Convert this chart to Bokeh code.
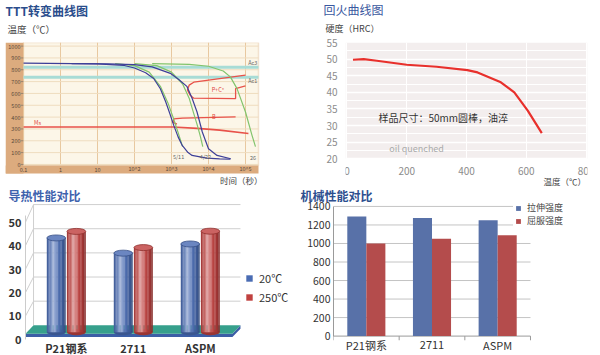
import math
from bokeh.plotting import figure
from bokeh.models import (Range1d, FixedTicker, Title, Legend, LegendItem,
                          ColumnDataSource, BoxAnnotation)
from bokeh.layouts import row, column
from bokeh.embed import file_html
from bokeh.resources import INLINE
from bokeh.core.properties import value

FONT = "Noto Sans CJK SC"

# ---------------- data ----------------
# TTT diagram (time in s, temperature in degC)
ttt_x_ticks = [0.1, 1, 10, 100, 1000, 10000, 100000]
ttt_x_labels = ["0.1", "1", "10", "10^2", "10^3", "10^4", "10^5"]
ttt_y_ticks = [0, 100, 200, 300, 400, 500, 600, 700, 800, 900, 1000]
ac3_temp = 822
ac1_temp = 737
ms_time = [0.1, 1100, 5000, 20000, 120000]
ms_temp = [316, 316, 305, 290, 262]
blue1_time = [0.1, 10, 50, 100, 200, 330, 500, 700, 900, 1150, 1500, 1950, 2800, 3600, 9000, 20000, 39000]
blue1_temp = [856, 850, 838, 815, 775, 726, 640, 528, 430, 330, 235, 161, 100, 76, 53, 47, 45]
blue2_time = [2, 20, 100, 300, 930, 1600, 2600, 3600, 4900, 6800, 10000, 17000, 40000]
blue2_temp = [852, 850, 843, 825, 770, 715, 660, 560, 443, 274, 133, 76, 48]
green1_time = [30, 100, 250, 500, 800, 1100, 1400, 2000]
green1_temp = [852, 835, 780, 660, 520, 400, 300, 150]
green2_time = [100, 400, 1000, 2000, 3000, 4000, 5000, 6000, 7000]
green2_temp = [852, 835, 780, 680, 560, 430, 330, 240, 150]
green3_time = [300, 3000, 10000, 25000, 39000, 59000, 100000, 150000, 186000]
green3_temp = [852, 845, 830, 790, 740, 641, 443, 246, 150]
pc_time = [100000, 20000, 4000, 3000, 2700, 3200, 4000, 54000, 54000, 100000]
pc_temp = [754, 725, 695, 670, 630, 585, 560, 557, 641, 664]
b_time = [1400, 1100, 1150, 2000, 54000]
b_temp = [340, 355, 385, 392, 402]
ttt_notes = ["Ac3", "Ac1", "Ms", "P+C*", "B", "5/11", "4/22", "26"]
ttt_note_time = [210000, 210000, 0.24, 18000, 14000, 1550, 8300, 160000]
ttt_note_temp = [855, 705, 347, 627, 400, 59, 59, 59]
ttt_note_align = ["right", "right", "center", "center", "center", "center", "center", "center"]
ttt_note_color = ["#666666", "#666666", "#e0443c", "#e0443c", "#e0443c", "#666666", "#666666", "#666666"]

# Tempering curve
temper_temp = [20, 56, 100, 200, 300, 403, 437, 515, 560, 605, 652]
temper_hrc = [49.8, 50.0, 49.5, 48.3, 47.7, 46.7, 46.0, 43.0, 40.0, 34.5, 27.7]
temper_x_ticks = [0, 200, 400, 600, 800]
temper_y_ticks = [20, 25, 30, 35, 40, 45, 50, 55]

# Thermal conductivity
thermal_cats = ["P21钢系", "2711", "ASPM"]
thermal_20 = [39.0, 32.7, 36.5]
thermal_250 = [41.7, 35.0, 41.8]
thermal_y_ticks = [0, 10, 20, 30, 40, 50]

# Mechanical properties
mech_cats = ["P21钢系", "2711", "ASPM"]
tensile = [1290, 1275, 1250]
yield_strength = [1000, 1050, 1090]
mech_y_ticks = [0, 200, 400, 600, 800, 1000, 1200, 1400]


# ---------------- helpers ----------------
def base_fig(w, h, l, r, t, b, **kw):
    p = figure(width=w, height=h, output_backend="svg", toolbar_location=None,
               min_border_left=l, min_border_right=r, min_border_top=t,
               min_border_bottom=b, **kw)
    p.border_fill_color = "white"
    return p


def set_title(t, text, size, color, offset, bold=False, align="left", valign="bottom", standoff=0):
    t.text = text
    t.text_font = FONT
    t.text_font_size = size
    t.text_color = color
    t.text_font_style = "bold" if bold else "normal"
    t.align = align
    t.offset = offset
    t.vertical_align = valign
    try:
        t.standoff = standoff
    except Exception:
        t.standoff = 0
    return t


def style_axis(ax, size, color, bold=False, standoff=3):
    ax.major_label_text_font = FONT
    ax.major_label_text_font_size = size
    ax.major_label_text_color = color
    ax.major_label_text_font_style = "bold" if bold else "normal"
    ax.major_label_standoff = standoff
    ax.major_tick_line_color = None
    ax.minor_tick_line_color = None
    ax.major_tick_out = 0
    ax.major_tick_in = 0
    ax.minor_tick_out = 0
    ax.minor_tick_in = 0
    ax.axis_line_color = None


def txt(p, x, y, text, size, color, align="center", bold=False, **kw):
    p.text(x=x, y=y, text=text, text_color=color, text_font=value(FONT),
           text_font_size=size, text_align=align, text_baseline="middle",
           text_font_style="bold" if bold else "normal", **kw)


def hex_rgb(h):
    h = h.lstrip("#")
    return [int(h[i:i + 2], 16) for i in (0, 2, 4)]


def rgb_hex(c):
    return "#%02x%02x%02x" % tuple(max(0, min(255, int(round(v)))) for v in c)


def shade(base, t):
    hl = 0.45 * math.exp(-((t - 0.36) / 0.2) ** 2)
    dk = 0.32 * ((t - 0.42) / 0.58) ** 2
    c = [v + (255 - v) * hl for v in hex_rgb(base)]
    return rgb_hex([v * (1 - dk) for v in c])


def mix(base, other, a):
    b, o = hex_rgb(base), hex_rgb(other)
    return rgb_hex([bb + (oo - bb) * a for bb, oo in zip(b, o)])


# ---------------- A: TTT ----------------
# pixel <-> data helpers for the TTT panel layout (log x, linear y)
def ax_(px):
    return 10 ** ((px - 23) / 37.0 - 1)


def ay_(py):
    return (164 - py) / 0.118


TAN = "#dcab7e"
CREAM = "#fcf6e8"
pA = base_fig(300, 186, 5, 32, 41, 0, x_axis_type="log", x_axis_location=None,
              y_axis_location=None,
              x_range=Range1d(ax_(5), ax_(268)), y_range=Range1d(ay_(186), ay_(42.4)))
pA.background_fill_color = "white"
pA.outline_line_color = None
pA.xgrid.visible = False
pA.ygrid.visible = False
x_right = ax_(258)
y_plot_bottom = ay_(165)
y_band_bottom = ay_(173)
pA.add_layout(BoxAnnotation(left=ttt_x_ticks[0], right=x_right, bottom=y_plot_bottom,
                            fill_color=CREAM, fill_alpha=1, line_color=TAN, line_width=1.5,
                            level="image"))
pA.add_layout(BoxAnnotation(right=ttt_x_ticks[0], bottom=y_band_bottom,
                            fill_color=TAN, fill_alpha=1, line_color=None, level="image"))
pA.add_layout(BoxAnnotation(right=x_right, top=y_plot_bottom, bottom=y_band_bottom,
                            fill_color=TAN, fill_alpha=1, line_color=None, level="image"))
# grid lines, limited to the plot box
pA.segment(x0=ttt_x_ticks, x1=ttt_x_ticks, y0=y_plot_bottom, y1=ay_(42.4),
           line_color="#e8c89f", line_width=1)
pA.segment(x0=ttt_x_ticks[0], x1=x_right, y0=ttt_y_ticks, y1=ttt_y_ticks,
           line_color="#efdcbf", line_width=1)
# tick marks and tick labels
pA.segment(x0=ax_(20.5), x1=ttt_x_ticks[0], y0=ttt_y_ticks, y1=ttt_y_ticks,
           line_color="#8a7a6a", line_width=0.8)
txt(pA, [ax_(20)] * len(ttt_y_ticks), ttt_y_ticks, [str(v) for v in ttt_y_ticks],
    "5.5px", "#5a4a3a", align="right")
txt(pA, ttt_x_ticks, [ay_(169)] * len(ttt_x_ticks), ttt_x_labels, "5.5px", "#5a4a3a")
# Ac lines
pA.segment(x0=ttt_x_ticks[0], x1=x_right, y0=[ac3_temp, ac1_temp], y1=[ac3_temp, ac1_temp],
           line_color="#a8dcd6", line_width=3)
RED = "#e8524a"
pA.line(ms_time, ms_temp, color=RED, line_width=1.6)
pA.line(b_time, b_temp, color=RED, line_width=1.3)
pA.line(pc_time, pc_temp, color=RED, line_width=1.3)
GREEN = "#82c46c"
pA.line(green1_time, green1_temp, color=GREEN, line_width=1.2)
pA.line(green2_time, green2_temp, color=GREEN, line_width=1.2)
pA.line(green3_time, green3_temp, color=GREEN, line_width=1.2)
BLUE = "#3d3f98"
pA.line(blue1_time, blue1_temp, color=BLUE, line_width=1.2)
pA.line(blue2_time, blue2_temp, color=BLUE, line_width=1.2)
pA.text(x="x", y="y", text="t", text_color="c", text_align="a",
        source=ColumnDataSource(dict(x=ttt_note_time, y=ttt_note_temp, t=ttt_notes,
                                     c=ttt_note_color, a=ttt_note_align)),
        text_font=value(FONT), text_font_size="5.5px", text_baseline="middle")
txt(pA, [ax_(262)], [ay_(179.5)], ["时间（秒）"], "8.5px", "#444444", align="right")
# outer (p.title) = main title, inner = unit label
set_title(pA.title, "TTT转变曲线图", "12px", "#2a4d8c", 0, bold=True, standoff=-4)
pA.add_layout(set_title(Title(), "温度（℃）", "9.5px", "#444444", 2, valign="top",
                        standoff=10), "above")

# ---------------- B: tempering ----------------
pB = base_fig(300, 186, 45, 13, 42, 0, x_axis_location=None,
              x_range=Range1d(-5, 805), y_range=Range1d(11.64, 55))
pB.background_fill_color = "white"
pB.outline_line_color = None
pB.add_layout(BoxAnnotation(bottom=20, top=55, fill_color="#f3eeee", fill_alpha=1,
                            line_color=None, level="image"))
pB.xgrid.ticker = FixedTicker(ticks=temper_x_ticks)
pB.yaxis.ticker = FixedTicker(ticks=temper_y_ticks,
                              minor_ticks=[t + 2.5 for t in temper_y_ticks[:-1]])
style_axis(pB.yaxis[0], "10px", "#8c8c8c", standoff=8)
pB.xgrid.grid_line_color = "white"
pB.xgrid.grid_line_width = 1
pB.ygrid.grid_line_color = "white"
pB.ygrid.grid_line_width = 1.5
pB.ygrid.minor_grid_line_color = "white"
pB.ygrid.minor_grid_line_width = 1
pB.line(temper_temp, temper_hrc, color="#e8302c", line_width=2.2)
txt(pB, temper_x_ticks, [16.26] * len(temper_x_ticks), [str(t) for t in temper_x_ticks],
    "10px", "#8c8c8c")
txt(pB, [800], [13.3], ["温度（℃）"], "8.5px", "#444444", align="right")
txt(pB, [322], [32.5], ["样品尺寸：50mm圆棒，油淬"], "10px", "#333333")
txt(pB, [233], [23.1], ["oil quenched"], "9px", "#aaaaaa")
set_title(pB.title, "回火曲线图", "12px", "#3a58a0", -22, standoff=-3)
pB.add_layout(set_title(Title(), "硬度（HRC）", "9px", "#444444", -20, valign="top",
                        standoff=11), "above")

# ---------------- C: thermal conductivity (3D cylinders) ----------------
DEPTH_BASE, DEPTH_SCALE, BACK_OFF = 3.1, 1.03, 6.0
X0, X1 = -0.609, 3.496
pC = base_fig(300, 169, 25, 0, 13, 0, x_axis_location=None,
              x_range=Range1d(X0, X1), y_range=Range1d(-6.86, 59.66))
pC.background_fill_color = "white"
pC.outline_line_color = None
pC.xgrid.visible = False
pC.ygrid.visible = False
n = len(thermal_cats)
xpos = list(range(n))
pC.yaxis.ticker = FixedTicker(ticks=thermal_y_ticks)
style_axis(pC.yaxis[0], "11px", "#333333", bold=True, standoff=4)
pC.yaxis.axis_line_color = "#cccccc"
pC.yaxis.bounds = (0, 53)
back_left = X0 + 0.12
back_right = (n - 1) + 0.6
front_right = (n - 1) + 0.48
gx, gy = [], []
for v in thermal_y_ticks[1:]:
    gx.append([X0, back_left, back_right])
    gy.append([v, v * DEPTH_SCALE + BACK_OFF, v * DEPTH_SCALE + BACK_OFF])
gx.append([back_left, back_left])
gy.append([BACK_OFF, thermal_y_ticks[-1] * DEPTH_SCALE + BACK_OFF])
pC.multi_line(gx, gy, line_color="#cfcfcf", line_width=1)
# floor
pC.patch([X0, front_right, back_right, back_right, front_right, X0],
         [0.99, 0.99, 4.5, BACK_OFF, 2.44, 2.44], fill_color="#3c5ea6", line_color=None)
pC.patch([X0, front_right, back_right, back_left],
         [2.44, 2.44, BACK_OFF, BACK_OFF], fill_color="#36a08c", line_color=None)

W = 0.28
K = 14
legend_rs = []
for vals, off, base in ((thermal_20, -0.15, "#4a6cb3"), (thermal_250, 0.15, "#c0413f")):
    xs = [i + off for i in xpos]
    tops = [DEPTH_BASE + DEPTH_SCALE * v for v in vals]
    pC.ellipse(x=xs, y=[DEPTH_BASE] * n, width=W, height=6, height_units="screen",
               fill_color=mix(base, "#000000", 0.2), line_color=None)
    sx, st, sc = [], [], []
    for i in range(n):
        for k in range(K):
            t = (k + 0.5) / K
            sx.append(xs[i] - W / 2 + t * W)
            st.append(tops[i])
            sc.append(shade(base, t))
    src = ColumnDataSource(dict(x=sx, top=st, color=sc))
    pC.vbar(x="x", top="top", bottom=DEPTH_BASE, width=W / K * 1.12, fill_color="color",
            line_color=None, source=src)
    pC.ellipse(x=xs, y=tops, width=W, height=6, height_units="screen",
               fill_color=mix(base, "#ffffff", 0.18), line_color=mix(base, "#000000", 0.25),
               line_width=0.8)
    # zero-height bars: only serve as legend swatch
    legend_rs.append(pC.vbar(x=xs, top=DEPTH_BASE, bottom=DEPTH_BASE, width=0.01,
                             fill_color=base, line_color=None))
txt(pC, xpos, [-3.86] * n, thermal_cats, "11px", "#333333", bold=True)
legC = Legend(items=[LegendItem(label="20℃", renderers=[legend_rs[0]]),
                     LegendItem(label="250℃", renderers=[legend_rs[1]])],
              location=(220, 50), background_fill_alpha=0, border_line_alpha=0,
              glyph_width=8, glyph_height=8, label_text_font=FONT,
              label_text_font_size="11px", label_text_color="#333333",
              spacing=3, padding=0, margin=0, label_standoff=6)
pC.add_layout(legC)
set_title(pC.title, "导热性能对比", "12px", "#3e62ad", -17, bold=True, standoff=-8)

# ---------------- D: mechanical properties ----------------
m = len(mech_cats)
mpos = list(range(m))
pD = base_fig(300, 169, 33, 0, 13, 0, x_axis_location=None,
              x_range=Range1d(-0.5, 3.566), y_range=Range1d(-209.5, 1474.9))
pD.outline_line_color = None
pD.xgrid.visible = False
pD.ygrid.visible = False
pD.yaxis.ticker = FixedTicker(ticks=mech_y_ticks)
style_axis(pD.yaxis[0], "10.5px", "#333333", standoff=3)
pD.yaxis.axis_line_color = "#9a9a9a"
pD.yaxis.bounds = (0, 1400)
# horizontal grid lines limited to the category span
pD.segment(x0=-0.5, x1=m - 0.5, y0=mech_y_ticks[1:], y1=mech_y_ticks[1:],
           line_color="#c4c4c4", line_width=1)
pD.segment(x0=[-0.5], x1=[m - 0.5], y0=[0], y1=[0], line_color="#9a9a9a", line_width=1)
# category boundary tick marks below the axis line
bounds_x = [i - 0.5 for i in range(m + 1)]
pD.segment(x0=bounds_x, x1=bounds_x, y0=0, y1=-45, line_color="#9a9a9a", line_width=1)
rT = pD.vbar(x=[i - 0.145 for i in mpos], top=tensile, width=0.29,
             fill_color="#5871a8", line_color=None)
rY = pD.vbar(x=[i + 0.145 for i in mpos], top=yield_strength, width=0.29,
             fill_color="#b44c4c", line_color=None)
txt(pD, mpos, [-101] * m, mech_cats, "11px", "#333333")
legD = Legend(items=[LegendItem(label="拉伸强度", renderers=[rT]),
                     LegendItem(label="屈服强度", renderers=[rY])],
              location=(180, 126), background_fill_color="white", background_fill_alpha=1,
              border_line_alpha=0, glyph_width=6, glyph_height=6, label_text_font=FONT,
              label_text_font_size="9px", label_text_color="#444444",
              label_height=11, spacing=0, padding=2, margin=0, label_standoff=6)
pD.add_layout(legD)
set_title(pD.title, "机械性能对比", "12px", "#2d4f8f", -33, bold=True, standoff=-8)

layout = column(row(pA, pB), row(pC, pD))
open("out.html", "w").write(file_html(layout, INLINE))
